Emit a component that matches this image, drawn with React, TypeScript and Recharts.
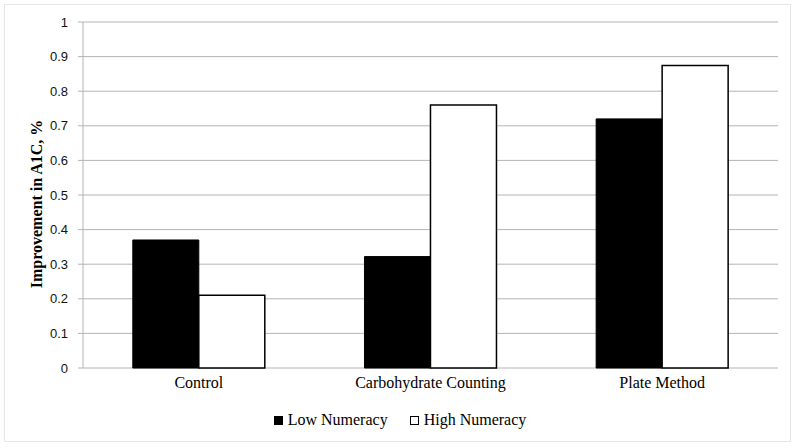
import React from 'react';
import { BarChart, Bar, XAxis, YAxis, CartesianGrid, Legend } from 'recharts';

const categories = ['Control', 'Carbohydrate Counting', 'Plate Method'];
const lowNumeracy = [0.37, 0.322, 0.72];
const highNumeracy = [0.21, 0.76, 0.874];
const seriesNames = ['Low Numeracy', 'High Numeracy'];
const yTicks = [0, 0.1, 0.2, 0.3, 0.4, 0.5, 0.6, 0.7, 0.8, 0.9, 1];
const boundaryTicks = [0, 1, 2, 3];
const yTitle = 'Improvement in A1C, %';

const data = categories.map((c, i) => ({ name: c, low: lowNumeracy[i], high: highNumeracy[i] }));

const GRID = '#b4b4b4';
const SERIF = '"Liberation Serif", "Times New Roman", serif';

const LegendContent = () => (
  <div
    style={{
      width: '100%',
      height: 20,
      display: 'flex',
      justifyContent: 'center',
      alignItems: 'center',
      fontFamily: SERIF,
      fontSize: 16,
      color: '#000',
    }}
  >
    {seriesNames.map((n, i) => (
      <div key={n} style={{ display: 'flex', alignItems: 'center', marginLeft: i === 0 ? 0 : 22 }}>
        <span
          style={{
            display: 'inline-block',
            width: 9,
            height: 9,
            boxSizing: 'border-box',
            background: i === 0 ? '#000' : '#fff',
            border: '1.5px solid #000',
            marginRight: 5,
          }}
        />
        <span style={{ fontFamily: SERIF }}>{n}</span>
      </div>
    ))}
  </div>
);

const YTitle = (props: any) => {
  const vb = props.viewBox || {};
  const cx = (vb.x || 0) + 36;
  const cy = (vb.y || 0) + (vb.height || 0) / 2 + 9;
  return (
    <text
      x={cx}
      y={cy}
      transform={`rotate(-90, ${cx}, ${cy})`}
      textAnchor="middle"
      dominantBaseline="central"
      fontFamily={SERIF}
      fontWeight="bold"
      fontSize={16}
      fill="#000"
    >
      {yTitle}
    </text>
  );
};

export default function App() {
  return (
    <div style={{ position: 'absolute', left: 0, top: 0, width: 800, height: 448, background: '#fff' }}>
      <div
        style={{
          position: 'absolute',
          left: 4,
          top: 4,
          width: 787,
          height: 438,
          border: '1px solid #e6e6e6',
          boxSizing: 'border-box',
        }}
      />
      <BarChart
        width={800}
        height={448}
        data={data}
        margin={{ top: 22, right: 22, left: 0, bottom: 30 }}
        barCategoryGap="21.5%"
        barGap={0}
      >
        <CartesianGrid horizontal vertical={false} stroke={GRID} strokeWidth={1} />
        <XAxis
          xAxisId="b"
          type="number"
          domain={[0, 3]}
          ticks={boundaryTicks}
          tick={false}
          tickSize={5}
          tickLine={{ stroke: GRID }}
          axisLine={{ stroke: GRID }}
          height={0}
          allowDataOverflow
        />
        <XAxis
          xAxisId="cat"
          dataKey="name"
          tickLine={false}
          axisLine={false}
          tickSize={0}
          tickMargin={9}
          height={30}
          tick={{ fontFamily: SERIF, fontSize: 16, fill: '#000' }}
        />
        <YAxis
          width={83}
          domain={[0, 1]}
          ticks={yTicks}
          tickSize={5}
          tickMargin={10}
          tickLine={{ stroke: GRID }}
          axisLine={{ stroke: GRID }}
          tick={{ fontFamily: '"Liberation Sans", Arial, sans-serif', fontSize: 13, fill: '#111' }}
          label={<YTitle />}
        />
        <Legend
          verticalAlign="bottom"
          content={<LegendContent />}
          wrapperStyle={{ left: 0, width: 800, top: 410, height: 20 }}
        />
        <Bar xAxisId="cat" dataKey="low" name={seriesNames[0]} fill="#000" stroke="#000" strokeWidth={1} isAnimationActive={false} />
        <Bar xAxisId="cat" dataKey="high" name={seriesNames[1]} fill="#fff" stroke="#000" strokeWidth={1.5} isAnimationActive={false} />
      </BarChart>
    </div>
  );
}
